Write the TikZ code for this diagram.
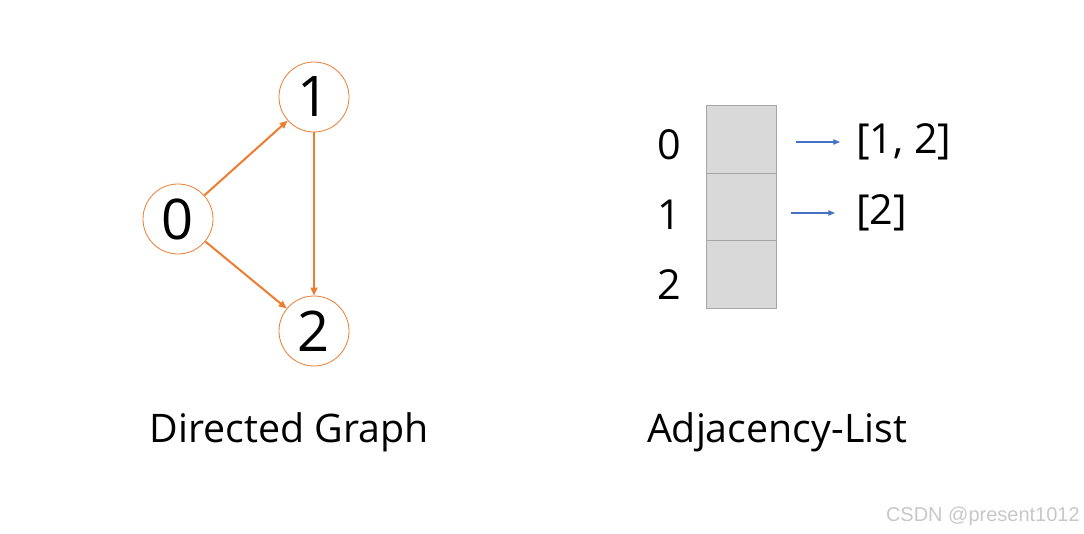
\documentclass[tikz,border=0pt]{standalone}
\usepackage{fontspec}
\setmainfont{Open Sans}
\newfontfamily\wmfont{Liberation Sans}
\usetikzlibrary{arrows.meta}
\definecolor{orng}{HTML}{ED7D31}
\definecolor{blu}{HTML}{4472C4}
\definecolor{cellfill}{HTML}{D9D9D9}
\definecolor{cellline}{HTML}{A6A6A6}
\definecolor{wm}{HTML}{C8C8C8}
\begin{document}
\begin{tikzpicture}[x=0.75pt,y=-0.75pt,
  vert/.style={circle,draw=orng,line width=0.6pt,minimum size=52.5pt,inner sep=0pt,font=\fontsize{42}{42}\selectfont},
  edge/.style={draw=orng,line width=1.5pt,-{Triangle[length=6pt,width=5pt]}},
  cell/.style={draw=cellline,fill=cellfill,line width=0.6pt,minimum width=53pt,minimum height=51pt,inner sep=0pt},
  lbl/.style={font=\fontsize{31}{31}\selectfont,inner sep=0pt},
  ptr/.style={draw=blu,line width=0.8pt,-{Triangle[length=5pt,width=4pt]}},
  title/.style={font=\fontsize{29.5}{29.5}\selectfont,inner sep=0pt}]
\useasboundingbox[fill=white] (0,0) rectangle (1084,534);
% graph
\node[vert] (n0) at (178,219) {0};
\node[vert] (n1) at (314,97) {1};
\node[vert] (n2) at (314,331) {2};
\draw[edge] (n0) -- (n1);
\draw[edge] (n0) -- (n2);
\draw[edge] (n1) -- (n2);
% list
\node[cell] (c0) at (741.5,139) {};
\node[cell] (c1) at (741.5,207) {};
\node[cell] (c2) at (741.5,274.5) {};
\node[lbl] (l0) at (669,145) {0};
\node[lbl] (l1) at (669,215) {1};
\node[lbl] (l2) at (669,285) {2};
\coordinate (a0s) at (796,142);
\coordinate (a1s) at (791,213);
\node[lbl,anchor=west] (v0) at (856,142) {[1, 2]};
\node[lbl,anchor=west] (v1) at (856,213) {[2]};
\draw[ptr,shorten >=12pt] (a0s) -- (v0.west);
\draw[ptr,shorten >=15.75pt] (a1s) -- (v1.west);
% titles
\node[title] (t1) at (289,432) {Directed Graph};
\node[title] (t2) at (777,432) {Adjacency-List};
\node[font=\wmfont\fontsize{15}{15}\selectfont,text=wm,anchor=east,inner sep=0pt] (wmk) at (1080,516) {CSDN @present1012};
\end{tikzpicture}
\end{document}
